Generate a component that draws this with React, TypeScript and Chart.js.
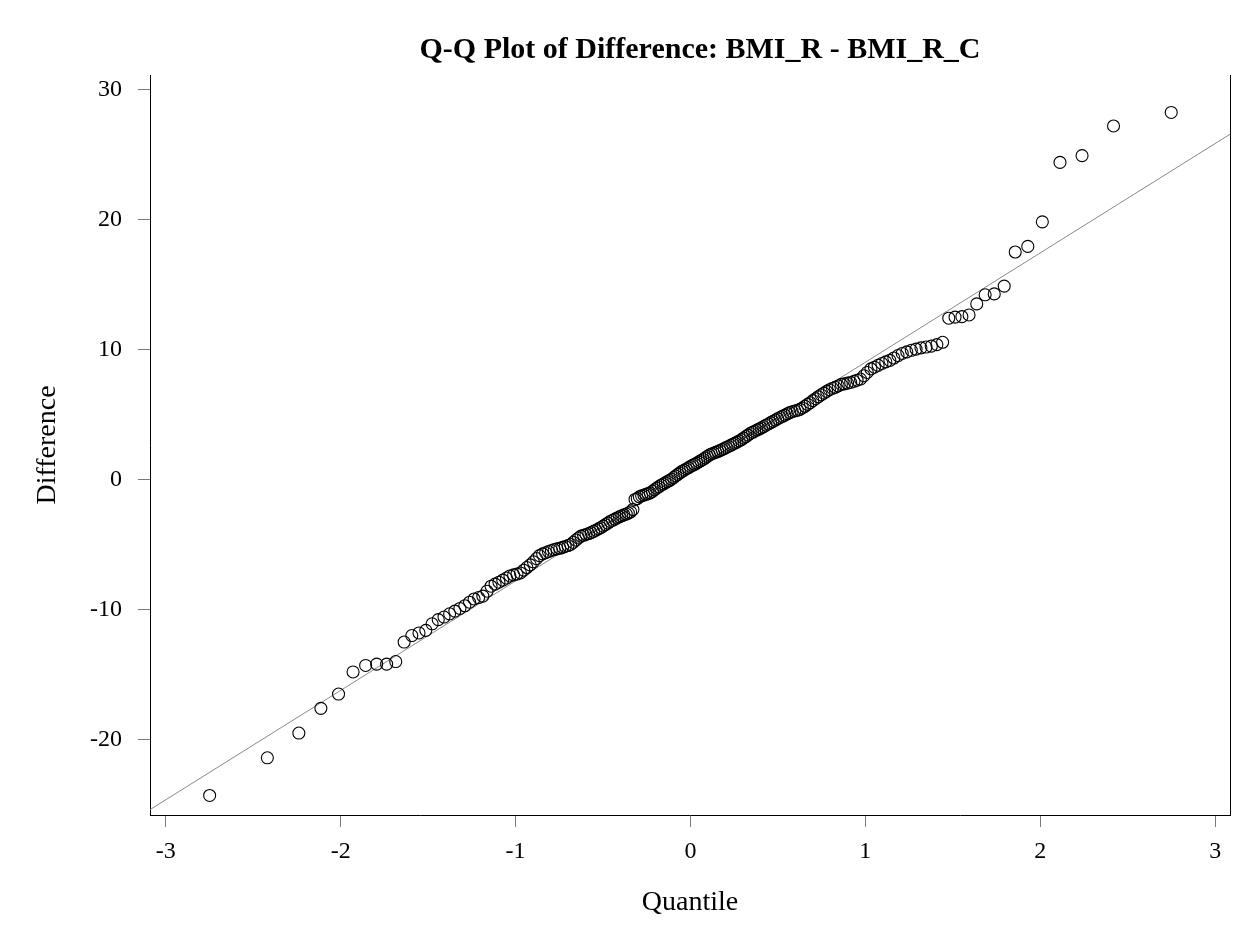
import React, { useEffect, useRef } from "react";
import { Chart, registerables } from "chart.js";

Chart.register(...registerables);

const TITLE = "Q-Q Plot of Difference: BMI_R - BMI_R_C";
const X_LABEL = "Quantile";
const Y_LABEL = "Difference";

const X_TICKS = [-3, -2, -1, 0, 1, 2, 3];
const Y_TICKS = [-20, -10, 0, 10, 20, 30];
const X_RANGE = [-3.09, 3.085];
const Y_RANGE = [-25.8, 31.1];

// reference (fitted) line: Difference = intercept + slope * quantile
const REF_INTERCEPT = 0.6;
const REF_SLOPE = 8.41;

// theoretical normal quantiles (x positions of the points)
const QUANTILES = [
  -2.749, -2.419, -2.239, -2.113, -2.012, -1.929, -1.857, -1.794, -1.737, -1.685,
  -1.637, -1.593, -1.552, -1.513, -1.477, -1.442, -1.409, -1.377, -1.347, -1.318,
  -1.290, -1.263, -1.237, -1.211, -1.187, -1.163, -1.140, -1.117, -1.095, -1.073,
  -1.052, -1.032, -1.011, -0.992, -0.972, -0.953, -0.935, -0.916, -0.898, -0.880,
  -0.863, -0.845, -0.828, -0.812, -0.795, -0.779, -0.763, -0.747, -0.731, -0.716,
  -0.700, -0.685, -0.670, -0.655, -0.640, -0.626, -0.611, -0.597, -0.582, -0.568,
  -0.554, -0.540, -0.526, -0.513, -0.499, -0.486, -0.472, -0.459, -0.446, -0.432,
  -0.419, -0.406, -0.393, -0.380, -0.367, -0.355, -0.342, -0.329, -0.317, -0.304,
  -0.292, -0.279, -0.266, -0.254, -0.242, -0.230, -0.217, -0.205, -0.193, -0.181,
  -0.168, -0.156, -0.144, -0.132, -0.120, -0.108, -0.096, -0.084, -0.072, -0.060,
  -0.048, -0.036, -0.024, -0.012,
  0,
  0.012, 0.024, 0.036, 0.048, 0.060, 0.072, 0.084, 0.096, 0.108, 0.120,
  0.132, 0.144, 0.156, 0.168, 0.181, 0.193, 0.205, 0.217, 0.230, 0.242,
  0.254, 0.266, 0.279, 0.292, 0.304, 0.317, 0.329, 0.342, 0.355, 0.367,
  0.380, 0.393, 0.406, 0.419, 0.432, 0.446, 0.459, 0.472, 0.486, 0.499,
  0.513, 0.526, 0.540, 0.554, 0.568, 0.582, 0.597, 0.611, 0.626, 0.640,
  0.655, 0.670, 0.685, 0.700, 0.716, 0.731, 0.747, 0.763, 0.779, 0.795,
  0.812, 0.828, 0.845, 0.863, 0.880, 0.898, 0.916, 0.935, 0.953, 0.972,
  0.992, 1.011, 1.032, 1.052, 1.073, 1.095, 1.117, 1.140, 1.163, 1.187,
  1.211, 1.237, 1.263, 1.290, 1.318, 1.347, 1.377, 1.409, 1.442, 1.477,
  1.513, 1.552, 1.593, 1.637, 1.685, 1.737, 1.794, 1.857, 1.929, 2.012,
  2.113, 2.239, 2.419, 2.749,
];

// sorted differences BMI_R - BMI_R_C (y positions)
const DIFFERENCES = [
  -24.3, -21.4, -19.5, -17.6, -16.5, -14.8, -14.3, -14.2, -14.2, -14.0, -12.5, -12.0, -11.8, -11.6, -11.1,
  -10.78, -10.58, -10.33, -10.12, -9.92, -9.71, -9.44, -9.19, -9.08, -8.97, -8.59, -8.21, -8.05, -7.90, -7.74,
  -7.58, -7.42, -7.34, -7.27, -7.19, -6.98, -6.77, -6.57, -6.33, -6.08, -5.86, -5.72, -5.63, -5.54, -5.46,
  -5.39, -5.34, -5.29, -5.22, -5.15, -5.08, -5.00, -4.83, -4.66, -4.50, -4.36, -4.29, -4.23, -4.16, -4.09,
  -3.99, -3.90, -3.80, -3.71, -3.59, -3.47, -3.35, -3.23, -3.14, -3.05, -2.96, -2.87, -2.79, -2.72, -2.66,
  -2.58, -2.49, -2.31, -1.54, -1.47, -1.33, -1.26, -1.20, -1.14, -1.09, -1.03, -0.91, -0.79, -0.67, -0.56,
  -0.44, -0.35, -0.26, -0.17, -0.08, 0.02, 0.15, 0.27, 0.39, 0.51, 0.62, 0.71, 0.81, 0.90, 1.00,
  1.09, 1.17, 1.26, 1.35, 1.44, 1.54, 1.65, 1.77, 1.88, 1.96, 2.02, 2.09, 2.15, 2.22, 2.30,
  2.38, 2.46, 2.54, 2.63, 2.71, 2.79, 2.87, 2.96, 3.06, 3.18, 3.30, 3.41, 3.54, 3.63, 3.71,
  3.80, 3.88, 3.97, 4.07, 4.17, 4.27, 4.37, 4.47, 4.57, 4.67, 4.77, 4.86, 4.95, 5.05, 5.14,
  5.21, 5.27, 5.32, 5.39, 5.50, 5.63, 5.77, 5.90, 6.06, 6.21, 6.36, 6.51, 6.64, 6.77, 6.90,
  7.01, 7.09, 7.19, 7.31, 7.35, 7.41, 7.46, 7.55, 7.63, 7.72, 7.98, 8.23, 8.50, 8.63, 8.78,
  8.92, 9.04, 9.16, 9.34, 9.53, 9.69, 9.81, 9.93, 10.02, 10.12, 10.18, 10.25, 10.37, 10.55,
  12.40, 12.48, 12.52, 12.65, 13.50, 14.20, 14.27, 14.87, 17.49, 17.92, 19.81, 24.38, 24.90, 27.18, 28.22,
];

const FONT_FAMILY = '"Liberation Serif", "Times New Roman", Times, serif';
const W = 1250;
const H = 937;

export default function App() {
  const canvasRef = useRef<HTMLCanvasElement | null>(null);

  useEffect(() => {
    const canvas = canvasRef.current;
    if (!canvas) return;

    const points = QUANTILES.map((q, i) => ({ x: q, y: DIFFERENCES[i] }));
    const refLine = X_RANGE.map((x) => ({ x, y: REF_INTERCEPT + REF_SLOPE * x }));

    const decor = {
      id: "qqDecor",
      afterDraw(chart: any) {
        const { ctx, chartArea: a } = chart;
        ctx.save();
        ctx.strokeStyle = "#000";
        ctx.lineWidth = 1;
        ctx.beginPath();
        ctx.moveTo(Math.round(a.right) + 0.5, a.top);
        ctx.lineTo(Math.round(a.right) + 0.5, a.bottom);
        ctx.stroke();
        ctx.fillStyle = "#000";
        ctx.font = `bold 30px ${FONT_FAMILY}`;
        ctx.textAlign = "center";
        ctx.textBaseline = "alphabetic";
        ctx.fillText(TITLE, 700, 58);
        ctx.restore();
      },
    };

    const tickFont = { family: FONT_FAMILY, size: 24 };
    const titleFont = { family: FONT_FAMILY, size: 28 };

    const chart = new Chart(canvas, {
      type: "scatter",
      data: {
        datasets: [
          {
            data: refLine,
            showLine: true,
            borderColor: "#8a8a8a",
            borderWidth: 1,
            pointRadius: 0,
            pointHoverRadius: 0,
            fill: false,
            order: 2,
          },
          {
            data: points,
            pointRadius: 6,
            pointHoverRadius: 6,
            borderWidth: 1.1,
            borderColor: "#000",
            backgroundColor: "rgba(0,0,0,0)",
            order: 1,
          },
        ],
      },
      options: {
        responsive: false,
        animation: false,
        devicePixelRatio: 1,
        layout: { padding: { top: 75, right: 20, left: 0, bottom: 0 } },
        plugins: {
          legend: { display: false },
          tooltip: { enabled: false },
          title: { display: false },
        },
        events: [],
        scales: {
          x: {
            type: "linear",
            position: "bottom",
            min: X_RANGE[0],
            max: X_RANGE[1],
            afterBuildTicks: (s: any) => {
              s.ticks = X_TICKS.map((v) => ({ value: v }));
            },
            afterFit: (s: any) => {
              s.height = 122;
            },
            ticks: {
              font: tickFont,
              color: "#000",
              padding: 10,
              maxRotation: 0,
              autoSkip: false,
              callback: (v: any) => String(v),
            },
            grid: {
              display: true,
              drawOnChartArea: false,
              drawTicks: true,
              tickLength: 12,
              color: "#7a7a7a",
              lineWidth: 1,
            },
            border: { display: true, color: "#000", width: 1 },
            title: {
              display: true,
              text: X_LABEL,
              font: titleFont,
              color: "#000",
              padding: { top: 0, bottom: 18 },
            },
          },
          y: {
            type: "linear",
            position: "left",
            min: Y_RANGE[0],
            max: Y_RANGE[1],
            afterBuildTicks: (s: any) => {
              s.ticks = Y_TICKS.map((v) => ({ value: v }));
            },
            afterFit: (s: any) => {
              s.width = 150;
            },
            ticks: {
              font: tickFont,
              color: "#000",
              padding: 16,
              autoSkip: false,
              callback: (v: any) => String(v),
            },
            grid: {
              display: true,
              drawOnChartArea: false,
              drawTicks: true,
              tickLength: 12,
              color: "#7a7a7a",
              lineWidth: 1,
            },
            border: { display: true, color: "#000", width: 1 },
            title: {
              display: true,
              text: Y_LABEL,
              font: titleFont,
              color: "#000",
              padding: { top: 31, bottom: 0 },
            },
          },
        },
      },
      plugins: [decor],
    } as any);

    return () => chart.destroy();
  }, []);

  return (
    <div style={{ position: "absolute", left: 0, top: 0, width: W, height: H, background: "#fff" }}>
      <canvas ref={canvasRef} width={W} height={H} style={{ display: "block", width: W, height: H }} />
    </div>
  );
}
